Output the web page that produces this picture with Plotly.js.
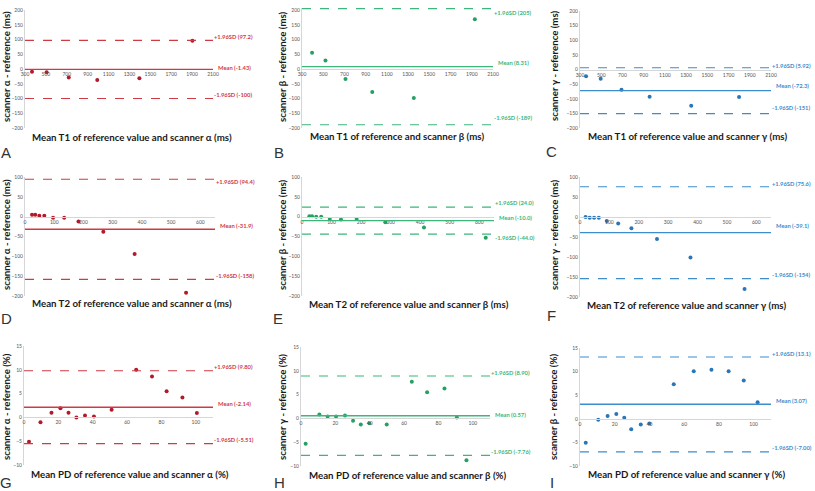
<!DOCTYPE html>
<html>
<head>
<meta charset="utf-8">
<script src="https://cdn.plot.ly/plotly-3.0.1.min.js"></script>
<style>
  html, body { margin: 0; padding: 0; background: #fff; }
  #chart { width: 815px; height: 491px; }
</style>
</head>
<body>
<div id="chart"></div>
<script>
// Bland-Altman agreement plots: T1, T2 and PD for scanners alpha, beta, gamma

// --- T1 (ms) ---
const t1AlphaX = [367, 507, 719, 992, 1395, 1903];
const t1AlphaY = [-9, -11, -29, -37, -31, 96];
const t1BetaX  = [395, 521, 710, 962, 1354, 1929];
const t1BetaY  = [55, 29, -34, -78, -98, 169];
const t1GammaX = [357, 495, 691, 956, 1348, 1799];
const t1GammaY = [-23, -32, -69, -93, -124, -94];

// --- T2 (ms) ---
const t2AlphaX = [24, 35, 49, 66, 96, 134, 183, 268, 375, 551];
const t2AlphaY = [5, 5, 2, 2, -3, -3, -12, -38, -94, -192];
const t2BetaX  = [25, 34, 48, 65, 94, 132, 185, 282, 413, 622];
const t2BetaY  = [1, 1, 0, 0, -6, -7, -6, -14, -27, -53];
const t2GammaX = [19, 33, 48, 64, 91, 130, 175, 262, 376, 560];
const t2GammaY = [0, -2, -2, -2, -10, -16, -28, -55, -101, -180];

// --- PD (%) ---
const pdAlphaX = [2.9, 9.6, 16, 21.2, 25.9, 30.5, 35.5, 40.7, 51, 65.3, 74.5, 83, 92.2, 100.6];
const pdAlphaY = [-5.1, -1.0, 1.0, 1.9, 1.0, 0, 0.4, 0.2, 1.6, 10.0, 8.6, 5.5, 4.2, 0.9];
const pdBetaX  = [2.7, 10.7, 15.5, 20.4, 25.6, 30.3, 34.8, 39.8, 49.9, 64.5, 73.4, 83.5, 90.7, 96.3];
const pdBetaY  = [-5.3, 0.8, 0.4, 0.4, 0.6, -0.5, -1.3, -1.0, -1.3, 7.7, 5.5, 6.3, 0.2, -8.8];
const pdGammaX = [3.3, 10.5, 15.9, 20.9, 25.5, 29.5, 35, 40, 54, 65.5, 75.7, 85.6, 94.3, 102.3];
const pdGammaY = [-5.1, -0.2, 0.6, 1.0, 0.2, -2.2, -1.2, -1.0, 7.3, 10.1, 10.4, 10.1, 8.1, 3.5];

// Bias and limits of agreement, panels A..I
const meanBias = [-1.43, 8.31, -72.3, -31.9, -10.0, -39.1, 2.14, 0.57, 3.07];
const upperLoA = [97.2, 205, 5.92, 94.4, 24.0, 75.6, 9.80, 8.90, 13.1];
const lowerLoA = [-100, -189, -151, -158, -44.0, -154, -5.51, -7.76, -7.00];
const meanText  = ['-1.43', '8.31', '-72.3', '-31.9', '-10.0', '-39.1', '-2.14', '0.57', '3.07'];
const upperText = ['97.2', '205', '5.92', '94.4', '24.0', '75.6', '9.80', '8.90', '13.1'];
const lowerText = ['-100', '-189', '-151', '-158', '-44.0', '-154', '-5.51', '-7.76', '-7.00'];

const panelLetters = ['A', 'B', 'C', 'D', 'E', 'F', 'G', 'H', 'I'];
const xTitles = [
  'Mean T1 of reference value and scanner α (ms)',
  'Mean T1 of reference and scanner β (ms)',
  'Mean T1 of reference value and scanner γ (ms)',
  'Mean T2 of reference value and scanner α (ms)',
  'Mean T2 of reference value and scanner β (ms)',
  'Mean T2 of reference value and scanner γ (ms)',
  'Mean PD of reference value and scanner α (%)',
  'Mean PD of reference value and scanner β (%)',
  'Mean PD of reference value and scanner γ (%)'
];
const yTitles = [
  'scanner α - reference (ms)', 'scanner β - reference (ms)', 'scanner γ - reference (ms)',
  'scanner α - reference (ms)', 'scanner β - reference (ms)', 'scanner γ - reference (ms)',
  'scanner α - reference (%)',  'scanner γ - reference (%)',  'scanner β - reference (%)'
];

const seriesX = [t1AlphaX, t1BetaX, t1GammaX, t2AlphaX, t2BetaX, t2GammaX, pdAlphaX, pdBetaX, pdGammaX];
const seriesY = [t1AlphaY, t1BetaY, t1GammaY, t2AlphaY, t2BetaY, t2GammaY, pdAlphaY, pdBetaY, pdGammaY];

// ---------- styling / layout ----------
const W = 815, H = 491;
const FONT = 'Lato, "Open Sans", "Liberation Sans", sans-serif';
const palette = [
  { line: '#cf3a45', dot: '#b3182b' },   // scanner alpha column
  { line: '#3cb67a', dot: '#25a062' },   // scanner beta column
  { line: '#3d8ccb', dot: '#2a76b6' }    // scanner gamma column
];

// plot boxes in pixels: [left, right, top, bottom]
const boxes = [
  [25, 213, 10, 128], [302, 493, 8, 128], [580, 771, 11, 128],
  [25, 215, 177, 296], [302, 494, 177, 296], [580, 771, 177, 297],
  [24, 213, 346, 465], [301, 490, 347, 466], [580, 771, 348, 466]
];
const xRanges = [[300, 2100], [300, 2100], [300, 2100], [0, 650], [0, 650], [0, 650], [0, 110], [0, 110], [0, 110]];
const yRanges = [[-200, 200], [-200, 207], [-200, 200], [-200, 100], [-200, 100], [-200, 100], [-10, 15], [-10, 15], [-10, 15]];
const xDticks = [200, 200, 200, 100, 100, 100, 20, 20, 20];
const yDticks = [50, 50, 50, 50, 50, 50, 5, 5, 5];
// vertical nudges of the limit labels (px, positive = up)
const upperShift = [4, -3.5, 2, -2, 5, 3.3, 4, 3.5, 3.3];
const meanShift  = [1.5, 4.5, 5, 3.4, 3, 6.8, 4, 1.3, 3.5];
const lowerShift = [4.5, 7, 6, 3.6, -3.5, 4.4, 4.5, 3.5, 4];

const px = v => v / W;
const py = v => 1 - v / H;

const data = [];
const shapes = [];
const annotations = [];
const layout = {
  width: W, height: H,
  margin: { l: 0, r: 0, t: 0, b: 0 },
  paper_bgcolor: '#fff', plot_bgcolor: '#fff',
  showlegend: false,
  font: { family: FONT, color: '#444' }
};

for (let i = 0; i < 9; i++) {
  const n = i === 0 ? '' : String(i + 1);
  const xa = 'x' + n, ya = 'y' + n;
  const col = palette[i % 3];
  const [l, r, t, b] = boxes[i];
  const yDom = [py(b), py(t)];
  const yr = yRanges[i];
  // x axis crosses the y axis at zero
  const zeroPos = yDom[0] + (0 - yr[0]) / (yr[1] - yr[0]) * (yDom[1] - yDom[0]);

  layout['xaxis' + n] = {
    domain: [px(l), px(r)], range: xRanges[i], dtick: xDticks[i], tick0: xRanges[i][0],
    anchor: 'free', position: zeroPos,
    showgrid: false, zeroline: false, showline: true, linecolor: '#d6d6d6', linewidth: 1,
    ticks: '', tickfont: { size: 5, color: '#555', family: FONT }, fixedrange: true
  };
  layout['yaxis' + n] = {
    domain: yDom, range: yr, dtick: yDticks[i], tick0: 0, anchor: xa,
    showgrid: false, zeroline: false, showline: true, linecolor: '#d6d6d6', linewidth: 1,
    ticks: '', tickfont: { size: 5, color: '#555', family: FONT }, fixedrange: true
  };

  data.push({
    type: 'scatter', mode: 'markers', xaxis: xa, yaxis: ya,
    x: seriesX[i], y: seriesY[i],
    marker: { color: col.dot, size: 4, symbol: 'circle' },
    hoverinfo: 'x+y'
  });

  const hline = (v, dash, w) => ({
    type: 'line', xref: xa + ' domain', x0: 0, x1: 1, yref: ya, y0: v, y1: v,
    line: { color: col.line, width: w, dash: dash }, layer: 'above'
  });
  shapes.push(hline(meanBias[i], 'solid', 1.4));
  shapes.push(hline(upperLoA[i], 'dash', 1.1));
  shapes.push(hline(lowerLoA[i], 'dash', 1.1));

  const lbl = (text, v, xs, ys) => ({
    text: text, xref: xa + ' domain', x: 1, xanchor: 'left', xshift: xs,
    yref: ya, y: v, yanchor: 'middle', yshift: ys, showarrow: false,
    font: { family: FONT, size: 5.8, color: col.line, weight: 'bold' }
  });
  annotations.push(lbl('+1.96SD (' + upperText[i] + ')', upperLoA[i], -1, upperShift[i]));
  annotations.push(lbl('Mean (' + meanText[i] + ')', meanBias[i], 3, meanShift[i]));
  annotations.push(lbl('-1.96SD (' + lowerText[i] + ')', lowerLoA[i], -1, lowerShift[i]));
}

// axis titles and panel letters (pixel centres)
const xTitlePos = [[132, 137], [397, 136], [688, 136], [132, 303], [409, 304], [687, 305], [130, 474], [407, 475], [686, 474]];
const yTitlePos = [[6, 67], [282, 67], [554, 66], [6, 235], [282, 235], [554, 235], [6, 407], [282, 407], [553, 407]];
const letterPos = [[6, 152], [279, 152], [551, 151], [6, 318], [278, 318], [551, 315], [6, 482], [279, 482], [552, 482]];

for (let i = 0; i < 9; i++) {
  annotations.push({
    text: xTitles[i], xref: 'paper', yref: 'paper',
    x: px(xTitlePos[i][0]), y: py(xTitlePos[i][1]), xanchor: 'center', yanchor: 'middle',
    showarrow: false, font: { family: FONT, size: 9.7, color: '#1a1a1a', weight: 'bold' }
  });
  annotations.push({
    text: yTitles[i], xref: 'paper', yref: 'paper', textangle: -90,
    x: px(yTitlePos[i][0]), y: py(yTitlePos[i][1]), xanchor: 'center', yanchor: 'middle',
    showarrow: false, font: { family: FONT, size: 9.7, color: '#1a1a1a', weight: 'bold' }
  });
  annotations.push({
    text: panelLetters[i], xref: 'paper', yref: 'paper',
    x: px(letterPos[i][0]), y: py(letterPos[i][1]), xanchor: 'center', yanchor: 'middle',
    showarrow: false, font: { family: '"Liberation Sans", sans-serif', size: 15, color: '#333' }
  });
}

layout.shapes = shapes;
layout.annotations = annotations;

Plotly.newPlot('chart', data, layout, { staticPlot: true, displayModeBar: false });
</script>
</body>
</html>
